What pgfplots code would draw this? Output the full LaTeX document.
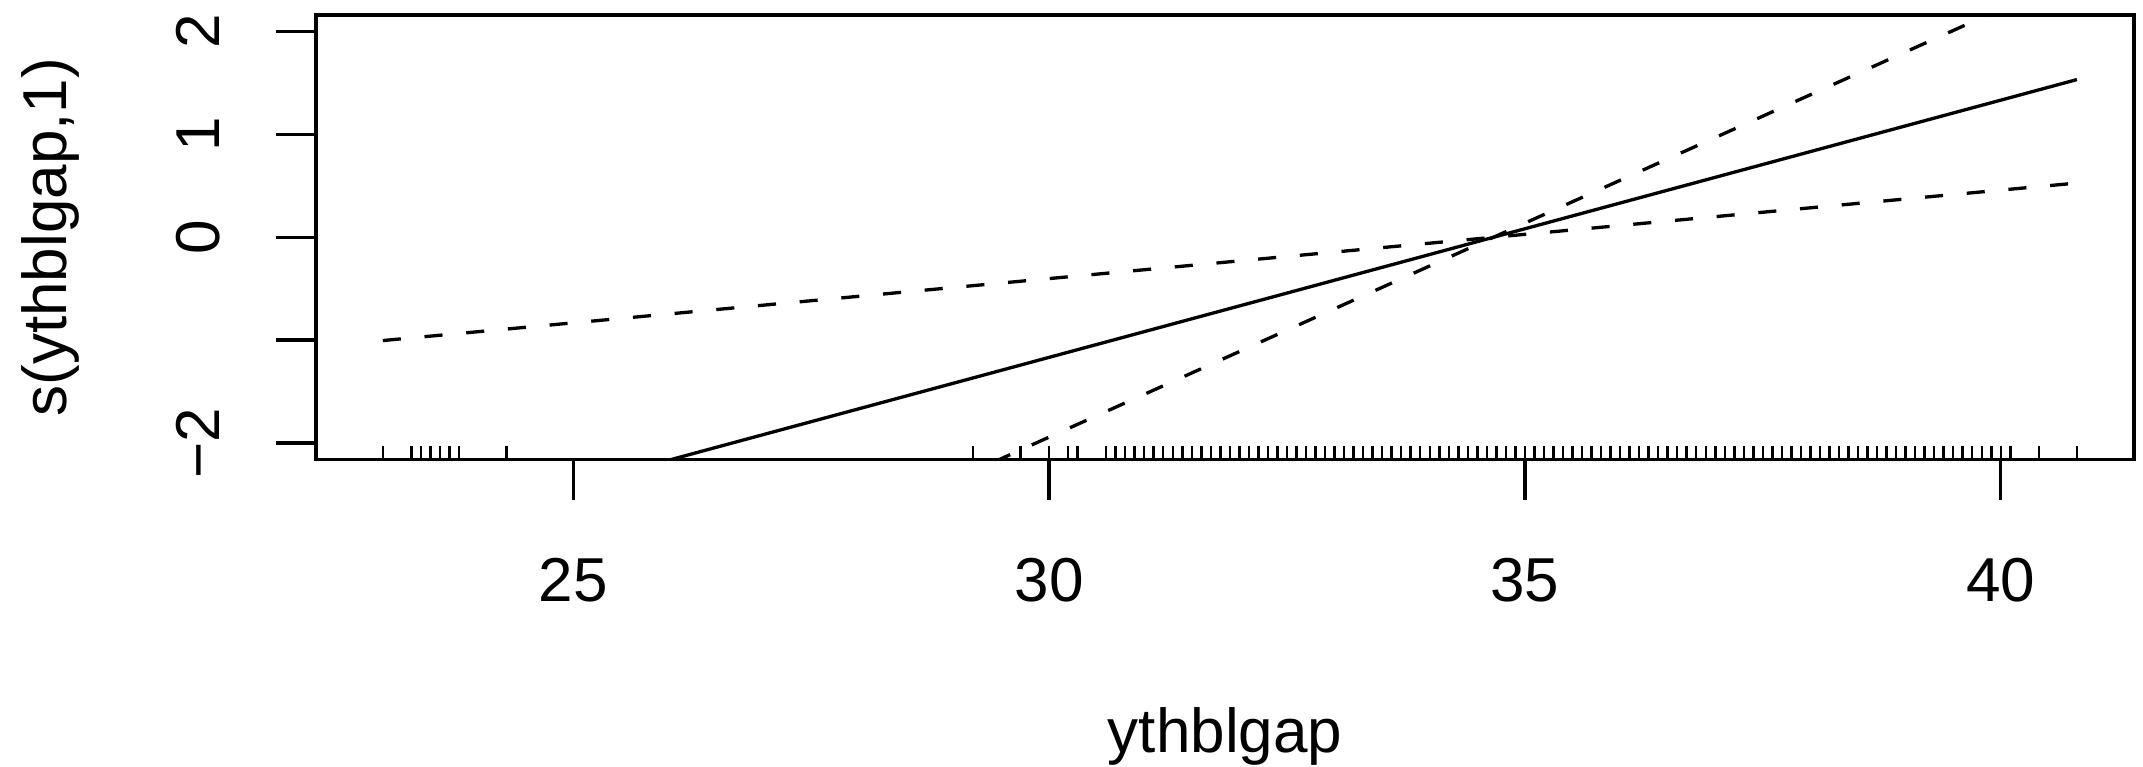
\documentclass[border=0pt]{standalone}
\usepackage{fontspec}
\setmainfont{Liberation Sans}
\usepackage{pgfplots}
\pgfplotsset{compat=1.18}
\begin{document}
\fontsize{12}{14.4}\selectfont
\begin{tikzpicture}
\begin{axis}[
  name=ax,
  scale only axis,
  width=351.78pt, height=86.01pt,
  xmin=22.298, xmax=41.40,
  ymin=-2.16, ymax=2.16,
  axis line style={line width=0.64pt},
  every tick/.style={black, line width=0.64pt},
  tick align=outside,
  tick pos=left,
  major tick length=7.74pt,
  xtick={25,30,35,40}, xticklabels={25,30,35,40},
  ytick={-2,-1,0,1,2}, yticklabels={−2,,0,1,2},
  xticklabel style={anchor=north, inner sep=0pt, yshift=-11.13pt},
  yticklabel style={xshift=-10.64pt, rotate=90, anchor=south, inner sep=0pt},
  xlabel={ythblgap}, ylabel={s(ythblgap,1)},
  xlabel style={at={(axis description cs:0.5,0)}, anchor=north, inner sep=0pt, yshift=-47.89pt},
  ylabel style={at={(axis description cs:-0.1375,0.5)}, anchor=base, inner sep=0pt},
  clip=true,
]
% fitted smooth (linear term)
\addplot[black, line width=0.64pt] coordinates {(23.0,-2.9175) (40.8,1.5325)};
% confidence bands (cross at the mean)
\addplot[black, line width=0.64pt, dash pattern=on 3.5pt off 4.6pt] coordinates {(23.0,-1.004) (34.67,0) (40.8,0.527)};
\addplot[black, line width=0.64pt, dash pattern=on 3.5pt off 4.6pt] coordinates {(23.0,-4.855) (34.67,0) (40.8,2.550)};
% rug
\addplot[black, line width=0.48pt, quiver={u=0,v=0.135}] table[x=x,y=y] {
x y
23.0 -2.16
23.3 -2.16
23.4 -2.16
23.5 -2.16
23.6 -2.16
23.7 -2.16
23.8 -2.16
24.3 -2.16
29.2 -2.16
29.7 -2.16
30.0 -2.16
30.2 -2.16
30.3 -2.16
30.6 -2.16
30.7 -2.16
30.8 -2.16
30.9 -2.16
31.0 -2.16
31.1 -2.16
31.2 -2.16
31.3 -2.16
31.4 -2.16
31.5 -2.16
31.6 -2.16
31.7 -2.16
31.8 -2.16
31.9 -2.16
32.0 -2.16
32.1 -2.16
32.2 -2.16
32.3 -2.16
32.4 -2.16
32.5 -2.16
32.6 -2.16
32.7 -2.16
32.8 -2.16
32.9 -2.16
33.0 -2.16
33.1 -2.16
33.2 -2.16
33.3 -2.16
33.4 -2.16
33.5 -2.16
33.6 -2.16
33.7 -2.16
33.8 -2.16
33.9 -2.16
34.0 -2.16
34.1 -2.16
34.2 -2.16
34.3 -2.16
34.4 -2.16
34.5 -2.16
34.6 -2.16
34.7 -2.16
34.8 -2.16
34.9 -2.16
35.0 -2.16
35.1 -2.16
35.2 -2.16
35.3 -2.16
35.4 -2.16
35.5 -2.16
35.6 -2.16
35.7 -2.16
35.8 -2.16
35.9 -2.16
36.0 -2.16
36.1 -2.16
36.2 -2.16
36.3 -2.16
36.4 -2.16
36.5 -2.16
36.6 -2.16
36.7 -2.16
36.8 -2.16
36.9 -2.16
37.0 -2.16
37.1 -2.16
37.2 -2.16
37.3 -2.16
37.4 -2.16
37.5 -2.16
37.6 -2.16
37.7 -2.16
37.8 -2.16
37.9 -2.16
38.0 -2.16
38.1 -2.16
38.2 -2.16
38.3 -2.16
38.4 -2.16
38.5 -2.16
38.6 -2.16
38.7 -2.16
38.8 -2.16
38.9 -2.16
39.0 -2.16
39.1 -2.16
39.2 -2.16
39.3 -2.16
39.4 -2.16
39.5 -2.16
39.6 -2.16
39.7 -2.16
39.8 -2.16
39.9 -2.16
40.0 -2.16
40.1 -2.16
40.4 -2.16
40.8 -2.16
};
\end{axis}
\pgfresetboundingbox
\path ([xshift=-61.15pt,yshift=-59.31pt]ax.south west) rectangle ([xshift=1.74pt,yshift=2.90pt]ax.north east);
\end{tikzpicture}
\end{document}
